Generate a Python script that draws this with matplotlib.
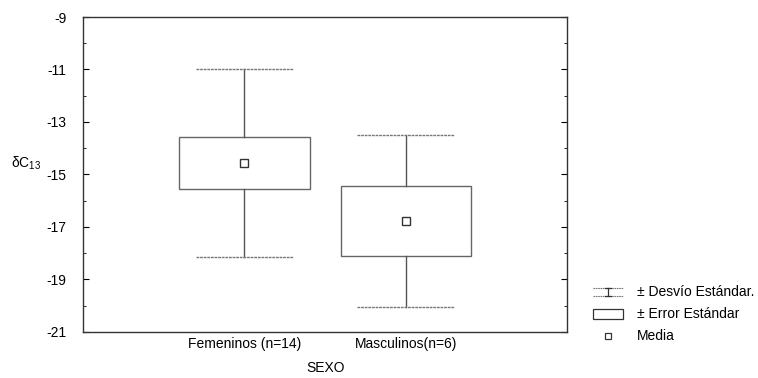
import numpy as np
import matplotlib
matplotlib.use("Agg")
import matplotlib.pyplot as plt
from matplotlib.lines import Line2D
from matplotlib.patches import Rectangle

plt.rcParams["font.family"] = ["Liberation Sans", "DejaVu Sans"]
plt.rcParams["mathtext.fontset"] = "custom"
plt.rcParams["mathtext.rm"] = "Liberation Sans"
plt.rcParams["mathtext.it"] = "Liberation Sans"
plt.rcParams["axes.unicode_minus"] = False

# Data
groups = ["Femeninos (n=14)", "Masculinos(n=6)"]
means = [-14.58, -16.77]
sd = [3.58, 3.27]
se = [0.99, 1.33]

FS = 10

fig = plt.figure(figsize=(7.58, 3.78), dpi=100)
ax = fig.add_axes([0.1095, 0.122, 0.639, 0.833])

box_w = 0.81
cap_w = 0.6
for i, (m, s, e) in enumerate(zip(means, sd, se)):
    x = i + 1
    # whiskers (± SD)
    ax.plot([x, x], [m + e, m + s], color="#555555", lw=1.0)
    ax.plot([x, x], [m - e, m - s], color="#555555", lw=1.0)
    ax.plot([x - cap_w / 2, x + cap_w / 2], [m + s, m + s], color="#777777", lw=1.0, ls=(0, (2, 0.6)))
    ax.plot([x - cap_w / 2, x + cap_w / 2], [m - s, m - s], color="#777777", lw=1.0, ls=(0, (2, 0.6)))
    # box (± SE)
    ax.add_patch(Rectangle((x - box_w / 2, m - e), box_w, 2 * e,
                           fill=False, ec="#666666", lw=1.0))
    # mean
    ax.plot(x, m, marker="s", ms=5.5, mfc="white", mec="#333333", mew=1.0)

ax.set_xlim(0, 3)
ax.set_ylim(-21, -9)
ax.set_xticks([1, 2])
ax.set_xticklabels(groups, fontsize=FS)
ax.set_yticks(np.arange(-21, -8, 2))
ax.set_yticks(np.arange(-20, -9, 2), minor=True)
ax.tick_params(axis="y", which="both", direction="in", left=True, right=True,
               labelsize=FS, pad=12)
ax.tick_params(axis="y", which="major", length=4)
ax.tick_params(axis="y", which="minor", length=2.5)
ax.tick_params(axis="x", length=0, pad=4)
for sp in ax.spines.values():
    sp.set_color("#333333")
    sp.set_linewidth(1.0)

ax.set_xlabel("SEXO", fontsize=FS, labelpad=7)
ax.set_ylabel(r"$\delta$C$_{13}$", fontsize=FS, rotation=0, va="center", ha="center")
ax.yaxis.set_label_coords(-0.118, 0.535)

# legend drawn by hand at the right
W, H = 758, 378
def fx(px):
    return px / W
def fy(py):
    return 1 - py / H

# ± Desvío Estándar.
y1 = 292
fig.add_artist(Line2D([fx(593), fx(623)], [fy(y1 - 4), fy(y1 - 4)], color="#777777", lw=0.8, ls=(0, (1.5, 0.6))))
fig.add_artist(Line2D([fx(593), fx(623)], [fy(y1 + 4), fy(y1 + 4)], color="#777777", lw=0.8, ls=(0, (1.5, 0.6))))
fig.add_artist(Line2D([fx(608), fx(608)], [fy(y1 - 4), fy(y1 + 4)], color="#333333", lw=0.9))
fig.add_artist(Line2D([fx(605), fx(611)], [fy(y1 - 4), fy(y1 - 4)], color="#333333", lw=0.9))
fig.add_artist(Line2D([fx(605), fx(611)], [fy(y1 + 4), fy(y1 + 4)], color="#333333", lw=0.9))
fig.text(fx(637), fy(y1), "± Desvío Estándar.", fontsize=FS, va="center", ha="left")

# ± Error Estándar
y2 = 314
fig.add_artist(Rectangle((fx(593), fy(y2 + 5)), fx(30), 10 / H, fill=False,
                         ec="#333333", lw=0.9, transform=fig.transFigure))
fig.text(fx(637), fy(y2), "± Error Estándar", fontsize=FS, va="center", ha="left")

# Media
y3 = 336
fig.add_artist(Line2D([fx(608)], [fy(y3)], marker="s", ms=5, mfc="white", mec="#333333", mew=0.9))
fig.text(fx(637), fy(y3), "Media", fontsize=FS, va="center", ha="left")

fig.savefig("out.png", dpi=100)
